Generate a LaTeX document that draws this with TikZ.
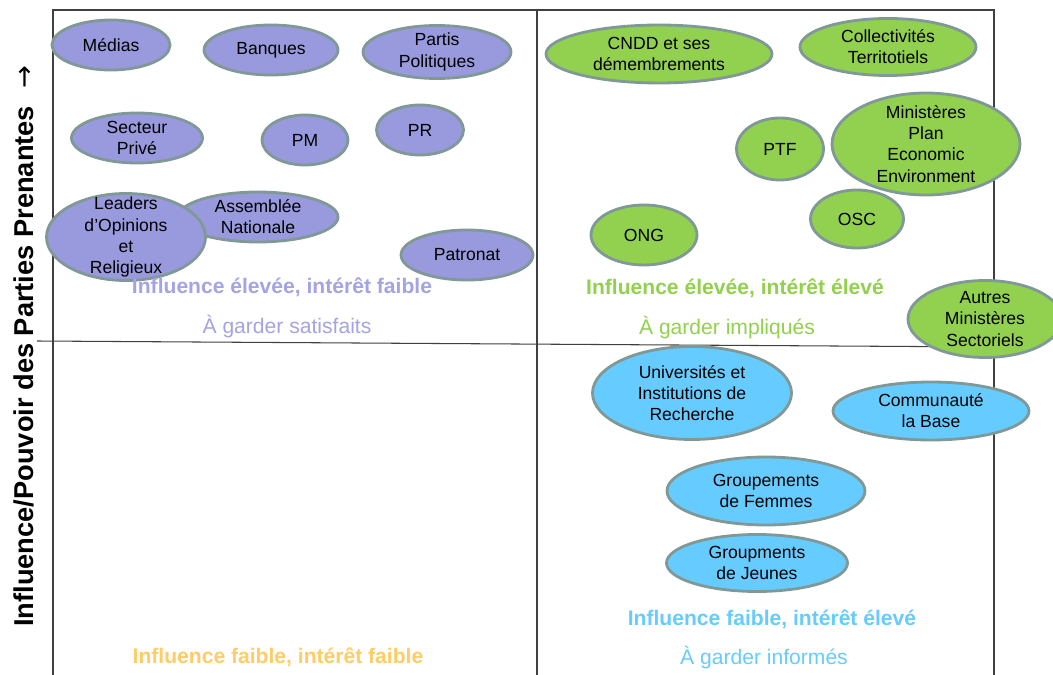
\documentclass[tikz,border=0pt]{standalone}
\usepackage{fontspec}
\setmainfont{Liberation Sans}
\newfontfamily\arrowfont{DejaVu Sans}
\usepackage{xcolor}
\definecolor{gridGray}{RGB}{64, 64, 64}
\definecolor{rimGray}{RGB}{128, 152, 150}
\definecolor{stakePurple}{RGB}{153, 153, 221}
\definecolor{stakeGreen}{RGB}{146, 208, 80}
\definecolor{stakeBlue}{RGB}{102, 204, 255}
\definecolor{titlePurple}{RGB}{163, 163, 230}
\definecolor{titleOrange}{RGB}{255, 204, 102}
\usepackage{tikz}
\usetikzlibrary{
    shapes.geometric,
    positioning
}

\begin{document}
\begin{tikzpicture}[
    x=0.2mm, y=-0.2mm,
    gridLine/.style={
        draw=gridGray, line width=0.6pt
    },
    stakeBox/.style={
        ellipse, draw=rimGray, line width=1.6pt,
        inner sep=0pt, align=center, text=black,
        font=\fontsize{10}{12}\selectfont
    },
    esize/.style 2 args={
        minimum width=#1*0.2mm, minimum height=#2*0.2mm
    },
    purpleBox/.style={stakeBox, fill=stakePurple},
    greenBox/.style={stakeBox, fill=stakeGreen},
    blueBox/.style={stakeBox, fill=stakeBlue},
    quadTitle/.style={
        font=\fontsize{12}{14}\selectfont\bfseries, inner sep=0pt
    },
    quadNote/.style={
        font=\fontsize{12}{14}\selectfont, inner sep=0pt
    }
]

    \useasboundingbox (0,0) rectangle (1053,675);

    % Grid
    \draw[gridLine] (53,690) -- (53,10) -- (994,10) -- (994,690);
    \draw[gridLine] (537,10) -- (537,690);
    \draw[gridLine] (37,341) -- (994,347);

    % Axis label
    \node[rotate=90, anchor=base west, inner sep=0pt,
          font=\fontsize{15.5}{17}\selectfont\bfseries] (axisY) at (33,627)
        {Influence/Pouvoir des Parties Prenantes\hspace{3.4mm}{\arrowfont\mdseries →}};

    % High influence, low interest
    \node[purpleBox, esize={118}{50}] (medias) at (111,45) {Médias};
    \node[purpleBox, esize={134}{50}] (banques) at (271,50) {Banques};
    \node[purpleBox, esize={148}{50}] (partis) at (437,52) {Partis\\Politiques};
    \node[purpleBox, esize={131}{50}] (secteur) at (137,138) {Secteur\\Privé};
    \node[purpleBox, esize={86}{50}] (pm) at (305,140) {PM};
    \node[purpleBox, esize={87}{50}] (pr) at (420,130) {PR};
    \node[purpleBox, esize={160}{50}] (assemblee) at (258,217) {Assemblée\\Nationale};
    \node[purpleBox, esize={159}{87}, inner ysep=-6pt] (leaders) at (126,237) {Leaders\\d’Opinions\\et\\Religieux};
    \node[purpleBox, esize={132}{50}] (patronat) at (467,255) {Patronat};

    \node[quadTitle, text=titlePurple] (tHighLow) at (282,287) {Influence élevée, intérêt faible};
    \node[quadNote, text=titlePurple] (nHighLow) at (287,327) {À garder satisfaits};

    % High influence, high interest
    \node[greenBox, esize={226}{58}] (cndd) at (659,54) {CNDD et ses\\démembrements};
    \node[greenBox, esize={176}{57}] (collect) at (888,47) {Collectivités\\Territotiels};
    \node[greenBox, esize={87}{62}] (ptf) at (780,149) {PTF};
    \node[greenBox, esize={188}{102}, inner ysep=-2pt] (ministeres) at (926,144) {Ministères\\Plan\\Economic\\Environment};
    \node[greenBox, esize={93}{58}] (osc) at (857,219) {OSC};
    \node[greenBox, esize={106}{60}] (ong) at (644,235) {ONG};
    \node[greenBox, esize={154}{73}] (autres) at (985,319) {Autres\\Ministères\\Sectoriels};

    \node[quadTitle, text=stakeGreen] (tHighHigh) at (735,288) {Influence élevée, intérêt élevé};
    \node[quadNote, text=stakeGreen] (nHighHigh) at (727,328) {À garder impliqués};

    % Low influence, high interest
    \node[blueBox, esize={199}{93}] (univ) at (692,393) {Universités et\\Institutions de\\Recherche};
    \node[blueBox, esize={196}{58}] (commun) at (931,411) {Communauté\\la Base};
    \node[blueBox, esize={198}{68}] (femmes) at (766,491) {Groupements\\de Femmes};
    \node[blueBox, esize={181}{57}] (jeunes) at (757,563) {Groupments\\de Jeunes};

    \node[quadTitle, text=stakeBlue] (tLowHigh) at (772,619) {Influence faible, intérêt élevé};
    \node[quadNote, text=stakeBlue] (nLowHigh) at (764,658) {À garder informés};

    % Low influence, low interest
    \node[quadTitle, text=titleOrange] (tLowLow) at (278,657) {Influence faible, intérêt faible};

\end{tikzpicture}
\end{document}
